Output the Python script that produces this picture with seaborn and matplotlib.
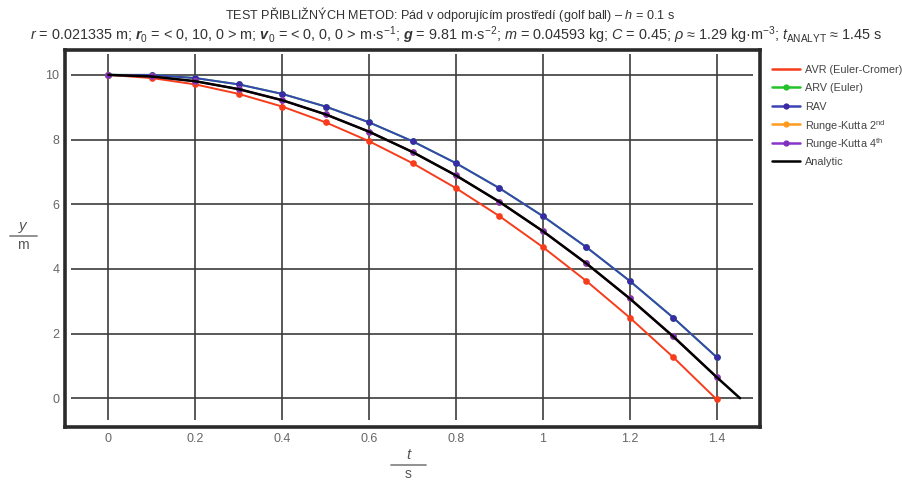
"""Golf ball fall in a resisting medium: comparison of integration methods."""

import matplotlib
matplotlib.use("Agg")
import matplotlib.pyplot as plt
import seaborn as sns
from matplotlib.lines import Line2D

# time steps (h = 0.1 s)
t = [0.0, 0.1, 0.2, 0.3, 0.4, 0.5, 0.6, 0.7, 0.8, 0.9, 1.0, 1.1, 1.2, 1.3, 1.4]

# height y [m] for each method
y_avr = [10.0, 9.902, 9.706, 9.412, 9.021, 8.533, 7.949, 7.270, 6.497,
         5.632, 4.675, 3.628, 2.494, 1.272, -0.034]
y_arv = [10.0, 10.0, 9.902, 9.706, 9.412, 9.021, 8.533, 7.949, 7.270,
         6.497, 5.632, 4.675, 3.628, 2.494, 1.272]
y_rav = [10.0, 10.0, 9.902, 9.706, 9.412, 9.021, 8.533, 7.949, 7.270,
         6.497, 5.632, 4.675, 3.628, 2.494, 1.272]
y_rk2 = [10.0, 9.951, 9.804, 9.559, 9.217, 8.779, 8.245, 7.616, 6.892,
         6.076, 5.170, 4.173, 3.088, 1.915, 0.658]
y_rk4 = [10.0, 9.951, 9.804, 9.559, 9.217, 8.779, 8.244, 7.615, 6.891,
         6.075, 5.168, 4.171, 3.085, 1.912, 0.655]

t_analytic = t + [1.454]
y_analytic = y_rk4 + [0.0]

x_ticks = [0, 0.2, 0.4, 0.6, 0.8, 1, 1.2, 1.4]
x_tick_labels = ["0", "0.2", "0.4", "0.6", "0.8", "1", "1.2", "1.4"]
y_ticks = [0, 2, 4, 6, 8, 10]
y_tick_labels = ["0", "2", "4", "6", "8", "10"]

labels = ["AVR (Euler-Cromer)", "ARV (Euler)", "RAV",
          r"Runge-Kutta 2$^{\mathrm{nd}}$", r"Runge-Kutta 4$^{\mathrm{th}}$",
          "Analytic"]
colors = ["#f73c1c", "#22c22a", "#3a44b4", "#ff9a1e", "#8a34c8", "#000000"]
marker_colors = ["#f73c1c", "#22c22a", "#3a2aa8", "#ff9a1e", "#8030c0", "#000000"]

sns.set_style("white")
plt.rcParams["font.family"] = ["Liberation Sans", "DejaVu Sans"]
plt.rcParams["mathtext.fontset"] = "custom"
plt.rcParams["mathtext.rm"] = "Liberation Sans"
plt.rcParams["mathtext.it"] = "Liberation Sans:italic"
plt.rcParams["mathtext.bf"] = "Liberation Sans:bold"
plt.rcParams["mathtext.bfit"] = "Liberation Sans:italic:bold"

W, H = 902, 482
fig = plt.figure(figsize=(W / 100, H / 100), dpi=100)
ax = fig.add_axes([65 / W, 1 - 427 / H, 695 / W, 377 / H])

# grid drawn as finite segments, inset from the frame
ax.hlines(y_ticks, -0.086, 1.484, colors="#3c3c3c", linewidth=1.2, zorder=1)
ax.vlines(x_ticks, -0.67, 10.65, colors="#3c3c3c", linewidth=1.2, zorder=1)

series = [y_avr, y_arv, y_rav, y_rk2, y_rk4]
for vals, col, mcol in zip(series, colors[:5], marker_colors[:5]):
    sns.lineplot(x=t, y=vals, ax=ax, color=col, linewidth=1.4, marker="o",
                 markersize=4.8, markerfacecolor=mcol, markeredgewidth=0,
                 zorder=3)
sns.lineplot(x=t_analytic, y=y_analytic, ax=ax, color="black", linewidth=1.8,
             zorder=4)

ax.set_xlim(-0.1, 1.5)
ax.set_ylim(-0.89, 10.77)
ax.set_xticks(x_ticks)
ax.set_xticklabels(x_tick_labels)
ax.set_yticks(y_ticks)
ax.set_yticklabels(y_tick_labels)
ax.tick_params(length=0, labelsize=9, colors="#666666", pad=4)
ax.set_xlabel("")
ax.set_ylabel("")
for sp in ax.spines.values():
    sp.set_visible(True)
    sp.set_linewidth(2.6)
    sp.set_color("#2a2a2a")

# legend outside on the right, rows evenly spaced
row_y = [69, 87.4, 105.8, 124.2, 142.6, 161]
for i, (lab, col) in enumerate(zip(labels, colors)):
    yy = 1 - row_y[i] / H
    mk = "o" if i in (1, 2, 3, 4) else "None"
    fig.add_artist(Line2D([772 / W, 800 / W], [yy, yy],
                          transform=fig.transFigure, color=col, linewidth=1.8))
    if mk != "None":
        fig.add_artist(Line2D([786 / W], [yy], transform=fig.transFigure,
                              marker=mk, markersize=4.5, markeredgewidth=0,
                              markerfacecolor=marker_colors[i], linestyle="None"))
    fig.text(805 / W, yy, lab, ha="left", va="center_baseline", fontsize=7.8,
             color="#444444")

# title
title1 = r"TEST PŘIBLIŽNÝCH METOD: Pád v odporujícím prostředí (golf ball) – $h$ = 0.1 s"
title2 = (r"$r$ = 0.021335 m; $\mathbfit{r}_0$ = < 0, 10, 0 > m; "
          r"$\mathbfit{v}_0$ = < 0, 0, 0 > m·s$^{-1}$; "
          r"$\mathbfit{g}$ = 9.81 m·s$^{-2}$; $m$ = 0.04593 kg; $C$ = 0.45; "
          r"$\rho$ ≈ 1.29 kg·m$^{-3}$; $t_{\mathrm{ANALYT}}$ ≈ 1.45 s")
fig.text(450 / W, 1 - 14 / H, title1, ha="center", va="center",
         fontsize=9.1, color="#333333")
fig.text(456 / W, 1 - 35 / H, title2, ha="center", va="center",
         fontsize=10.4, color="#333333")


# fraction style axis labels
def frac_label(xc, yc, top, bottom, half_w):
    fig.text(xc / W, 1 - (yc - 10) / H, top, ha="center", va="center",
             fontsize=11, style="italic", color="#555555")
    fig.text(xc / W, 1 - (yc + 9) / H, bottom, ha="center", va="center",
             fontsize=10, color="#555555")
    fig.add_artist(Line2D([(xc - half_w) / W, (xc + half_w) / W],
                          [1 - yc / H, 1 - yc / H],
                          transform=fig.transFigure, color="#888888",
                          linewidth=1.3))


frac_label(23, 236, "y", "m", 13.5)
frac_label(408, 465, "t", "s", 17.5)

fig.savefig("out.png", dpi=100)
